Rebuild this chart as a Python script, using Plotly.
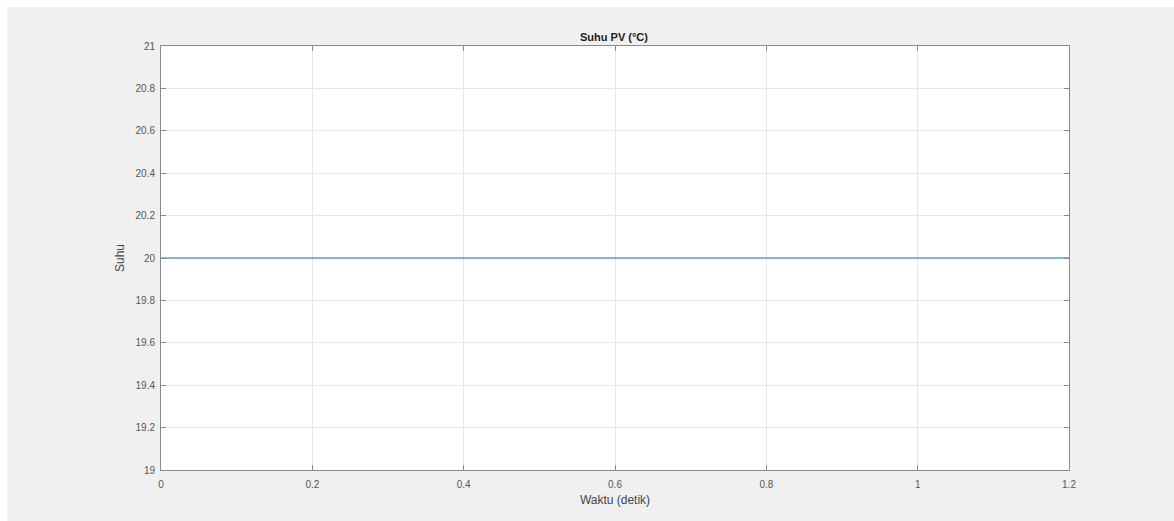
import plotly.graph_objects as go

# Simulation time (s) and PV temperature (°C)
waktu = [0.0, 0.2, 0.4, 0.6, 0.8, 1.0, 1.2]
suhu = [20, 20, 20, 20, 20, 20, 20]

x_ticks = [0, 0.2, 0.4, 0.6, 0.8, 1, 1.2]
x_ticklabels = ["0", "0.2", "0.4", "0.6", "0.8", "1", "1.2"]
y_ticks = [19, 19.2, 19.4, 19.6, 19.8, 20, 20.2, 20.4, 20.6, 20.8, 21]
y_ticklabels = ["19", "19.2", "19.4", "19.6", "19.8", "20", "20.2", "20.4", "20.6", "20.8", "21"]

W, H = 1174, 521
ML, MR, MT, MB = 161, 105, 46, 51
pw, ph = W - ML - MR, H - MT - MB

def px_x(p):
    return (p - ML) / pw

def px_y(p):
    return (H - MB - p) / ph

fig = go.Figure()
fig.add_trace(go.Scatter(
    x=waktu, y=suhu, mode="lines",
    line=dict(color="#5aa2cf", width=1.6),
    showlegend=False, hoverinfo="skip",
))

font_main = "Liberation Sans, Arial, Helvetica, sans-serif"
axis_common = dict(
    showgrid=True, gridcolor="#e6e6e6", gridwidth=1,
    showline=True, linecolor="#8a8a8a", linewidth=1, mirror="ticks",
    ticks="inside", ticklen=5, tickcolor="#8a8a8a", tickwidth=1,
    zeroline=False, tickfont=dict(family=font_main, size=10, color="#555555"),
)

fig.update_layout(
    width=W, height=H,
    margin=dict(l=ML, r=MR, t=MT, b=MB),
    paper_bgcolor="#f0f0f0", plot_bgcolor="#ffffff",
    title=dict(text="<b>Suhu PV (°C)</b>", x=px_x(614), xanchor="center",
               y=1 - 37 / H, yanchor="middle",
               xref="paper", yref="container",
               font=dict(family=font_main, size=11, color="#222222")),
    xaxis=dict(range=[0, 1.2], tickvals=x_ticks, ticktext=x_ticklabels,
               ticklabelstandoff=5,
               title=dict(text="Waktu (detik)", standoff=6,
                          font=dict(family=font_main, size=12, color="#444444")),
               **axis_common),
    yaxis=dict(range=[19, 21], tickvals=y_ticks, ticktext=y_ticklabels,
               ticklabelstandoff=3,
               title=dict(text="Suhu", standoff=8,
                          font=dict(family=font_main, size=12, color="#444444")),
               **axis_common),
    shapes=[
        # thin white border around the grey figure area
        dict(type="rect", xref="paper", yref="paper",
             x0=px_x(0), x1=px_x(W), y0=px_y(0), y1=px_y(7),
             fillcolor="#ffffff", line=dict(width=0), layer="below"),
        dict(type="rect", xref="paper", yref="paper",
             x0=px_x(0), x1=px_x(7), y0=px_y(0), y1=px_y(H),
             fillcolor="#ffffff", line=dict(width=0), layer="below"),
    ],
)

fig.write_html("out.html")
